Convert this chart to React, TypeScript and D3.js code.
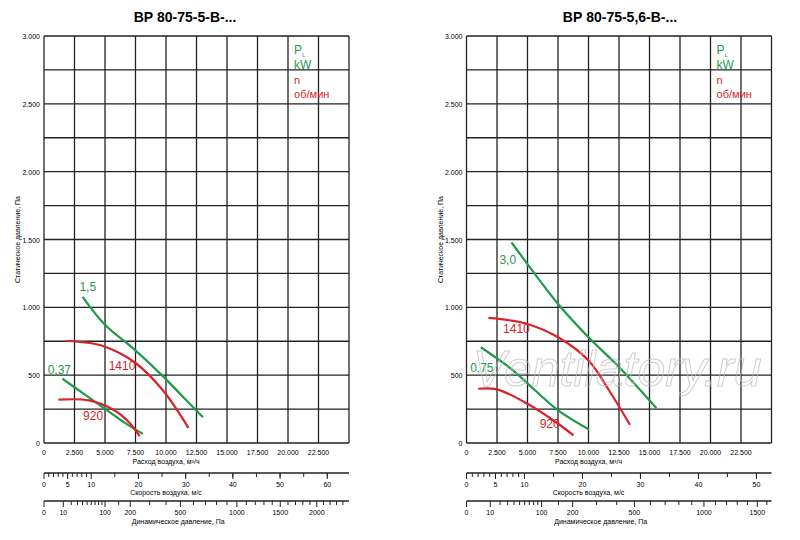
import * as d3 from "d3";

// flow in m3/h, static pressure in Pa
const leftPower15: [number, number][] = [[3160, 1077], [5000, 871], [7400, 690], [9740, 493], [11500, 330], [13030, 190]];
const leftN1410: [number, number][] = [[1790, 752], [3500, 740], [5000, 710], [7370, 599], [9740, 389], [11840, 111]];
const leftPower037: [number, number][] = [[1500, 475], [3300, 360], [5000, 252], [6600, 150], [8100, 67]];
const leftN920: [number, number][] = [[1180, 319], [3680, 314], [5790, 240], [7000, 150], [7840, 50]];

const rightPower30: [number, number][] = [[3690, 1478], [5000, 1319], [7510, 1025], [10000, 779], [12510, 559], [15570, 257]];
const rightN1410: [number, number][] = [[1800, 922], [3500, 905], [5000, 877], [7510, 779], [10000, 608], [11690, 387], [13390, 135]];
const rightPower075: [number, number][] = [[1175, 706], [3690, 545], [5000, 440], [7510, 240], [10050, 100]];
const rightN920: [number, number][] = [[956, 400], [2490, 395], [5000, 289], [7510, 142], [8770, 56]];

const flowTicks = [0, 2500, 5000, 7500, 10000, 12500, 15000, 17500, 20000, 22500];
const pressureTicks = [0, 500, 1000, 1500, 2000, 2500, 3000];

const leftVelMax = 64.6;
const rightVelMax = 52.6;
const leftVelLabels = [0, 5, 10, 20, 30, 40, 50, 60];
const rightVelLabels = [0, 5, 10, 20, 30, 40, 50];
const leftDynLabels = [0, 10, 100, 200, 500, 1000, 1500, 2000];
const rightDynLabels = [0, 10, 100, 200, 500, 1000, 1500];
const leftDynMax = 2500;
const rightDynMax = 1650;

const GREEN = "#1e9a4a";
const RED = "#d8232a";
const fmt = (v: number) => (v === 0 ? "0" : d3.format(",")(v).replace(",", "."));

interface Curve { pts: [number, number][]; color: string; label: string; lx: number; ly: number }

function Panel(props: {
  x0: number; title: string; titleX: number; curves: Curve[];
  velMax: number; velLabels: number[]; dynMax: number; dynLabels: number[];
}) {
  const { x0, title, titleX, curves, velMax, velLabels, dynMax, dynLabels } = props;
  const w = 305;
  const x = d3.scaleLinear().domain([0, 25000]).range([x0, x0 + w]);
  const y = d3.scaleLinear().domain([0, 3000]).range([443, 36]);
  const vx = d3.scaleLinear().domain([0, velMax]).range([x0, x0 + w]);
  const dx = d3.scaleSqrt().domain([0, dynMax]).range([x0, x0 + w]);
  const line = d3.line<[number, number]>().x(d => x(d[0])).y(d => y(d[1])).curve(d3.curveCatmullRom);
  const vGrid = d3.range(0, 25001, 2500);
  const hGrid = d3.range(0, 3001, 250);
  const velMinor = [...d3.range(1, 10), ...d3.range(15, velMax, 5)];
  const dynMinor = [...d3.range(20, 100, 10), 150, 300, 400, ...d3.range(600, dynMax, 100).filter(v => v % 500 !== 0)];
  const font = "Arial, 'Liberation Sans', sans-serif";
  return (
    <g fontFamily={font}>
      <text x={titleX} y={22} textAnchor="middle" fontSize={14} fontWeight="bold">{title}</text>
      {vGrid.map(v => <line key={"v" + v} x1={x(v)} x2={x(v)} y1={y(0)} y2={y(3000)} stroke="#222" strokeWidth={1.3} />)}
      {hGrid.map(v => <line key={"h" + v} x1={x(0)} x2={x(25000)} y1={y(v)} y2={y(v)} stroke="#222" strokeWidth={1.3} />)}
      {pressureTicks.map(v => <text key={"p" + v} x={x0 - 4} y={y(v) + 3} textAnchor="end" fontSize={7}>{fmt(v)}</text>)}
      <text transform={`translate(${x0 - 24},${y(1500)}) rotate(-90)`} textAnchor="middle" fontSize={7}>Статическое давление, Па</text>
      {flowTicks.map(v => <text key={"f" + v} x={x(v)} y={455} textAnchor="middle" fontSize={7}>{fmt(v)}</text>)}
      <text x={x(10000)} y={464} textAnchor="middle" fontSize={7}>Расход воздуха, м³/ч</text>
      {curves.map((c, i) => (
        <g key={i}>
          <path d={line(c.pts) ?? ""} fill="none" stroke={c.color} strokeWidth={2.2} />
          <text x={x(c.lx)} y={y(c.ly)} fill={c.color} fontSize={12}>{c.label}</text>
        </g>
      ))}
      <text x={x(20500)} y={54} fill={GREEN} fontSize={12}>P<tspan fontSize={6} dy={3}>L</tspan></text>
      <text x={x(20500)} y={69} fill={GREEN} fontSize={12}>kW</text>
      <text x={x(20500)} y={84} fill={RED} fontSize={11}>n</text>
      <text x={x(20500)} y={98} fill={RED} fontSize={11}>об/мин</text>
      {/* velocity axis */}
      <line x1={x0} x2={x0 + w} y1={473} y2={473} stroke="#222" strokeWidth={1.3} />
      {velMinor.map(v => <line key={"vm" + v} x1={vx(v)} x2={vx(v)} y1={473} y2={477} stroke="#222" />)}
      {velLabels.map(v => <line key={"vl" + v} x1={vx(v)} x2={vx(v)} y1={473} y2={479} stroke="#222" />)}
      {velLabels.map(v => <text key={"vt" + v} x={vx(v)} y={487} textAnchor="middle" fontSize={7}>{v}</text>)}
      <text x={x(10000)} y={495} textAnchor="middle" fontSize={7}>Скорость воздуха, м/с</text>
      {/* dynamic pressure axis */}
      <line x1={x0} x2={x0 + w} y1={501} y2={501} stroke="#222" strokeWidth={1.3} />
      {dynMinor.map(v => <line key={"dm" + v} x1={dx(v)} x2={dx(v)} y1={501} y2={505} stroke="#222" />)}
      {dynLabels.map(v => <line key={"dl" + v} x1={dx(v)} x2={dx(v)} y1={501} y2={507} stroke="#222" />)}
      {dynLabels.map(v => <text key={"dt" + v} x={dx(v)} y={515} textAnchor="middle" fontSize={7}>{v}</text>)}
      <text x={x(11000)} y={524} textAnchor="middle" fontSize={7}>Динамическое давление, Па</text>
    </g>
  );
}

export default function App() {
  return (
    <svg width={800} height={540} style={{ position: "absolute", left: 0, top: 0, background: "#fff" }}>
      <rect width={800} height={540} fill="#fff" />
      <Panel x0={44} title="ВР 80-75-5-В-..." titleX={185} velMax={leftVelMax} velLabels={leftVelLabels} dynMax={leftDynMax} dynLabels={leftDynLabels}
        curves={[
          { pts: leftPower15, color: GREEN, label: "1,5", lx: 2900, ly: 1120 },
          { pts: leftN1410, color: RED, label: "1410", lx: 5300, ly: 540 },
          { pts: leftPower037, color: GREEN, label: "0,37", lx: 300, ly: 510 },
          { pts: leftN920, color: RED, label: "920", lx: 3200, ly: 170 },
        ]} />
      <Panel x0={466.5} title="ВР 80-75-5,6-В-..." titleX={620} velMax={rightVelMax} velLabels={rightVelLabels} dynMax={rightDynMax} dynLabels={rightDynLabels}
        curves={[
          { pts: rightPower30, color: GREEN, label: "3,0", lx: 2700, ly: 1320 },
          { pts: rightN1410, color: RED, label: "1410", lx: 3000, ly: 810 },
          { pts: rightPower075, color: GREEN, label: "0,75", lx: 300, ly: 520 },
          { pts: rightN920, color: RED, label: "920", lx: 6000, ly: 110 },
        ]} />
      <text x={617} y={386} textAnchor="middle" fontSize={50} fontStyle="italic" fontFamily="Arial, 'Liberation Sans', sans-serif"
        fill="none" stroke="#bbb" strokeWidth={1} opacity={0.7}>Ventilatory.ru</text>
    </svg>
  );
}
